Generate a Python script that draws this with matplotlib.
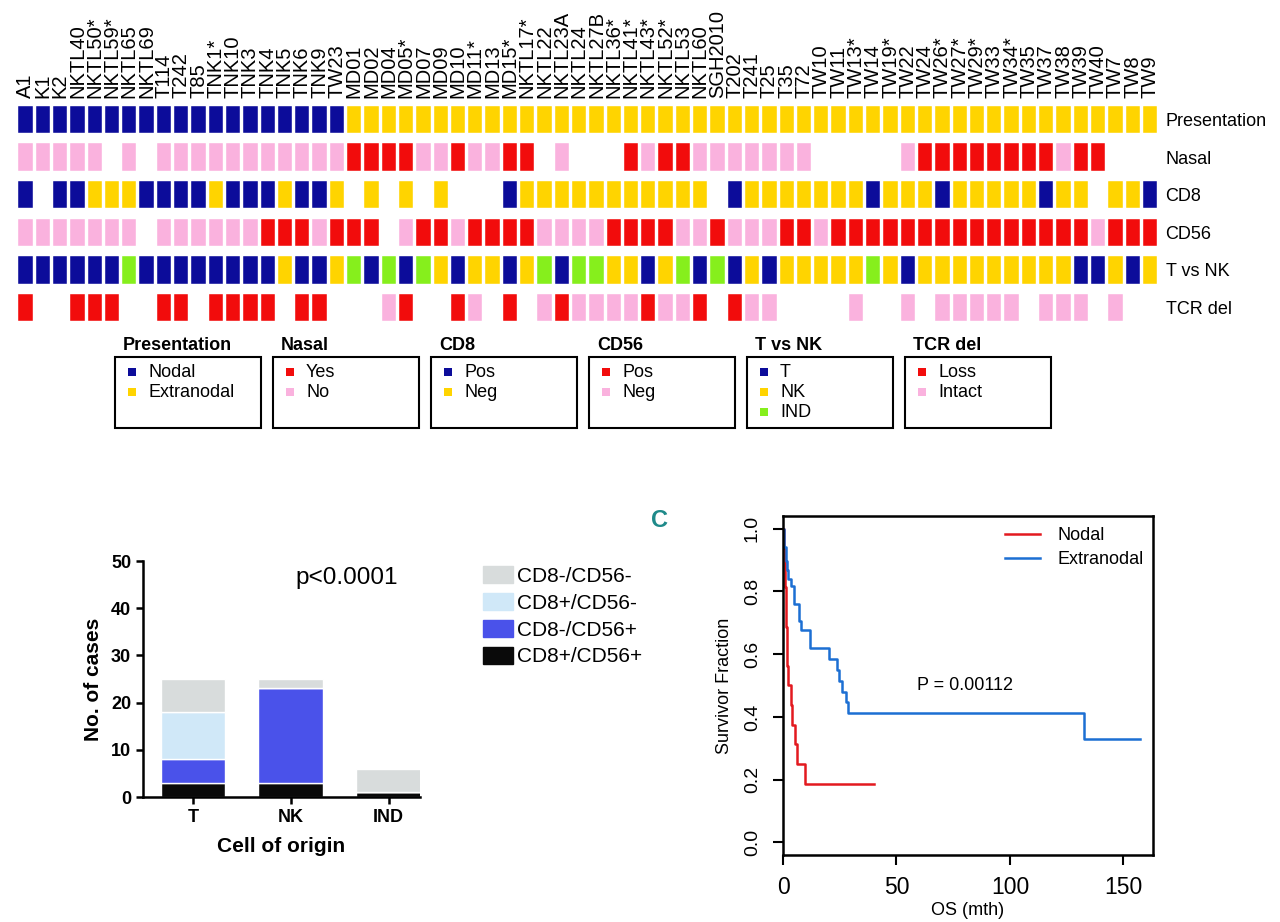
import numpy as np
import matplotlib.pyplot as plt
from matplotlib.patches import Rectangle, Patch

plt.rcParams['font.family'] = ['Liberation Sans', 'DejaVu Sans']
NARROW = ['Liberation Sans Narrow', 'Liberation Sans', 'DejaVu Sans']

# ---- heatmap data (one character per sample, '.' = not available) ----
samples = ['A1', 'K1', 'K2', 'NKTL40', 'NKTL50*', 'NKTL59*', 'NKTL65', 'NKTL69',
           'T114', 'T242', 'T85', 'TNK1*', 'TNK10', 'TNK3', 'TNK4', 'TNK5', 'TNK6',
           'TNK9', 'TW23', 'MD01', 'MD02', 'MD04', 'MD05*', 'MD07', 'MD09', 'MD10',
           'MD11*', 'MD13', 'MD15*', 'NKTL17*', 'NKTL22', 'NKTL23A', 'NKTL24',
           'NKTL27B', 'NKTL36*', 'NKTL41*', 'NKTL43*', 'NKTL52*', 'NKTL53', 'NKTL60',
           'SGH2010', 'T202', 'T241', 'T25', 'T35', 'T72', 'TW10', 'TW11', 'TW13*',
           'TW14', 'TW19*', 'TW22', 'TW24', 'TW26*', 'TW27*', 'TW29*', 'TW33',
           'TW34*', 'TW35', 'TW37', 'TW38', 'TW39', 'TW40', 'TW7', 'TW8', 'TW9']
row_names = ['Presentation', 'Nasal', 'CD8', 'CD56', 'T vs NK', 'TCR del']
presentation = 'NNNNNNNNNNNNNNNNNNN' + 'EEEEEEEEEEEEEEEEEEEEEEEEEEEEEEEEEEEEEEEEEEEEEEE'
nasal = 'NNNNN.N.NNNNNNNNN' + 'NN' + 'YYYYNNYNNYY.N..' + '.YNYYNNNNNNN.....' + 'NYYYYYYYYNYY...'
cd8 = 'P.PPNNNPPPPNPPPNP' + 'PN' + '.N.N.N...PNNNNN' + 'NNNNNN.PNNNNNNNPN' + 'NNPNNNNNPNN.NNP'
cd56 = 'NNNNNNN.NNNNNNPPP' + 'NP' + 'PP.NPPNPPPPNNNN' + 'PPPPNNPNNNPPNPPPP' + 'PPPPPPPPPPPNPPP'
t_vs_nk = 'TTTTTTITTTTTTTTKT' + 'TK' + 'ITITIKTKKTKITII' + 'KKTKITITKTKKKKKIK' + 'TKKKKKKKKKTTKTK'
tcr_del = 'L..LLL..LL.LLLL.L' + 'L.' + '..IL..LI.L.ILII' + 'IILIIL.LII....I..' + 'I.IIIII.III.I..'
rows = [presentation, nasal, cd8, cd56, t_vs_nk, tcr_del]

NAVY = '#0c0c9a'
GOLD = '#ffd400'
RED = '#f20c0c'
PINK = '#fab2de'
GREEN = '#86ef1c'

# legend entries: (label, code, colour)
legend_entries = {
    'Presentation': [('Nodal', 'N', NAVY), ('Extranodal', 'E', GOLD)],
    'Nasal': [('Yes', 'Y', RED), ('No', 'N', PINK)],
    'CD8': [('Pos', 'P', NAVY), ('Neg', 'N', GOLD)],
    'CD56': [('Pos', 'P', RED), ('Neg', 'N', PINK)],
    'T vs NK': [('T', 'T', NAVY), ('NK', 'K', GOLD), ('IND', 'I', GREEN)],
    'TCR del': [('Loss', 'L', RED), ('Intact', 'I', PINK)],
}

# ---- stacked bar data ----
cell_origin = ['T', 'NK', 'IND']
cd8pos_cd56pos = [3, 3, 1]
cd8neg_cd56pos = [5, 20, 0]
cd8pos_cd56neg = [10, 0, 0]
cd8neg_cd56neg = [7, 2, 5]

# ---- Kaplan-Meier steps ----
nodal_t = [0, 0.4, 0.7, 1.0, 1.2, 1.4, 1.6, 1.8, 2.0, 3.5, 3.8, 5.3, 6.0, 9.5, 40]
nodal_s = [1.0, 0.9375, 0.875, 0.8125, 0.75, 0.6875, 0.625, 0.5625, 0.5, 0.4375,
           0.375, 0.3125, 0.25, 0.1875, 0.1875]
extra_t = [0, 0.3, 0.6, 1.3, 1.9, 2.35, 3.4, 4.85, 6.9, 7.8, 11.9, 20.1, 23.6, 24.8,
           25.8, 27.8, 28.8, 132.6, 157.3]
extra_s = [1.0, 0.97, 0.94, 0.896, 0.869, 0.84, 0.816, 0.761, 0.705, 0.678, 0.62,
           0.583, 0.549, 0.514, 0.479, 0.447, 0.413, 0.33, 0.33]

W, H = 1280, 922
fig = plt.figure(figsize=(W / 100, H / 100), dpi=100)


def px_axes(x0, y0, x1, y1):
    """Add axes from pixel corners (top-left origin)."""
    return fig.add_axes([x0 / W, 1 - y1 / H, (x1 - x0) / W, (y1 - y0) / H])


# ---------------- heatmap ----------------
ax = px_axes(16.85, 100.7, 1158.65, 326.3)
for r, (name, codes) in enumerate(zip(row_names, rows)):
    for label, code, color in legend_entries[name]:
        idx = [i for i, c in enumerate(codes) if c == code]
        ax.bar(idx, 0.73, bottom=r - 0.365, width=0.83, color=color,
               edgecolor='white', linewidth=0.3)
ax.set_xlim(-0.5, len(samples) - 0.5)
ax.set_ylim(5.5, -0.5)
ax.set_xticks(range(len(samples)))
ax.set_xticklabels(samples, rotation=90, fontsize=14.5)
ax.xaxis.tick_top()
ax.set_yticks(range(len(row_names)))
ax.set_yticklabels(row_names, fontsize=13)
ax.yaxis.tick_right()
ax.tick_params(length=0)
ax.tick_params(axis='x', pad=2)
ax.tick_params(axis='y', pad=5)
for s in ax.spines.values():
    s.set_visible(False)

# legend boxes under the heatmap
ov = fig.add_axes([0, 0, 1, 1])
ov.set_xlim(0, W)
ov.set_ylim(H, 0)
ov.axis('off')
for i, name in enumerate(row_names):
    left = 115 + 158 * i
    ov.add_patch(Rectangle((left, 357), 146, 71, fill=False, lw=1.5, ec='black'))
    ov.text(left + 8, 345, name, fontsize=13, fontweight='bold', va='center')
    for j, (label, code, color) in enumerate(legend_entries[name]):
        ov.add_patch(Rectangle((left + 13, 368 + 20 * j), 8, 8, color=color, lw=0))
        ov.text(left + 33, 372 + 20 * j, label, fontsize=13, va='center')
ov.text(660, 520, 'C', fontsize=17, fontweight='bold', color='#1f8a8a',
        family=NARROW, ha='center', va='center')

# ---------------- stacked bar chart ----------------
bx = px_axes(143, 561, 420, 797)
x = np.arange(len(cell_origin))
stacks = [(cd8pos_cd56pos, '#0a0a0a', 'CD8+/CD56+'),
          (cd8neg_cd56pos, '#4a52ea', 'CD8-/CD56+'),
          (cd8pos_cd56neg, '#d0e8f8', 'CD8+/CD56-'),
          (cd8neg_cd56neg, '#d8dcdc', 'CD8-/CD56-')]
bottom = np.zeros(len(cell_origin))
for vals, color, label in stacks:
    bx.bar(x, vals, bottom=bottom, width=0.66, color=color, edgecolor='white',
           linewidth=1)
    bottom += np.array(vals)
bx.set_xlim(-0.51, 2.32)
bx.set_ylim(0, 50)
bx.set_yticks(range(0, 51, 10))
bx.set_xticks(x)
bx.set_xticklabels(cell_origin)
for t in bx.get_xticklabels() + bx.get_yticklabels():
    t.set_fontweight('bold')
    t.set_family(NARROW)
    t.set_fontsize(13)
bx.spines['top'].set_visible(False)
bx.spines['right'].set_visible(False)
for s in ['left', 'bottom']:
    bx.spines[s].set_linewidth(1.8)
bx.tick_params(width=1.8, length=5)
bx.set_ylabel('No. of cases', fontsize=15, fontweight='bold', family=NARROW, labelpad=6)
bx.set_xlabel('Cell of origin', fontsize=15, fontweight='bold', family=NARROW, labelpad=8)
bx.text(1.57, 46.4, 'p<0.0001', fontsize=17.5, ha='center', va='center')

handles = [Patch(color=c) for _, c, _ in stacks[::-1]]
labels = [l for _, _, l in stacks[::-1]]
fig.legend(handles, labels, loc='upper left', bbox_to_anchor=(483 / W, 1 - 566 / H),
           frameon=False, fontsize=15, handlelength=1.45, handleheight=0.87,
           handletextpad=0.2, labelspacing=0.35, borderpad=0, borderaxespad=0)

# ---------------- Kaplan-Meier ----------------
kx = px_axes(783, 516, 1153, 855)
kx.step(nodal_t, nodal_s, where='post', color='#e3191f', lw=1.8, label='Nodal')
kx.step(extra_t, extra_s, where='post', color='#1c6fd3', lw=1.8, label='Extranodal')
kx.set_xlim(0, 163)
kx.set_ylim(-0.04, 1.04)
kx.set_xticks([0, 50, 100, 150])
kx.set_yticks([0.0, 0.2, 0.4, 0.6, 0.8, 1.0])
kx.set_yticklabels(['0.0', '0.2', '0.4', '0.6', '0.8', '1.0'], rotation=90, va='center')
kx.tick_params(axis='x', labelsize=16.5, pad=8, length=7, width=1.5)
kx.tick_params(axis='y', labelsize=14, pad=9, length=7, width=1.5)
for s in kx.spines.values():
    s.set_linewidth(1.8)
kx.set_xlabel('OS (mth)', fontsize=13, labelpad=2)
kx.set_ylabel('Survivor Fraction', fontsize=13, labelpad=8)
kx.text(80, 0.5, 'P = 0.00112', fontsize=13, ha='center', va='center')
kx.legend(loc='upper left', bbox_to_anchor=(1005 / W, 1 - 527 / H),
          bbox_transform=fig.transFigure, frameon=False, fontsize=13,
          handlelength=1.95, handletextpad=0.95, labelspacing=0.4,
          borderpad=0, borderaxespad=0)

fig.savefig('out.png', dpi=100)
